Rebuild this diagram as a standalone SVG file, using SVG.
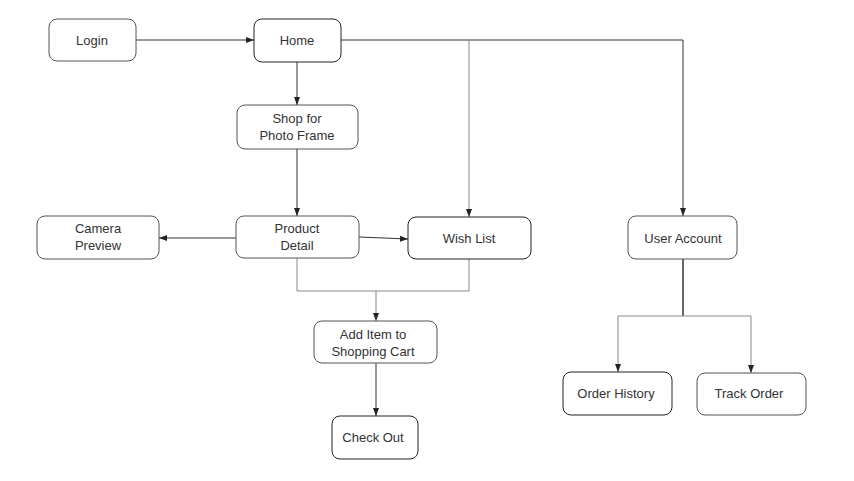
<svg xmlns="http://www.w3.org/2000/svg" width="854" height="481" viewBox="0 0 854 481">
<style>
.box{fill:#fff;stroke:#555;stroke-width:1}
.dark{stroke:#222}
.t{font-family:"Liberation Sans",Arial,sans-serif;font-size:13px;fill:#333;text-anchor:middle}
.c{fill:none;stroke:#333;stroke-width:1}
.g{stroke:#888}
</style>
<defs>
<marker id="a" viewBox="0 0 8 8" refX="8" refY="4" markerWidth="8" markerHeight="8" markerUnits="userSpaceOnUse" orient="auto">
<path d="M0,1 L8,4 L0,7 Z" fill="#222"/>
</marker>
</defs>
<rect width="854" height="481" fill="#fff"/>
<g id="connectors">
<path class="c" d="M136,40 H254" marker-end="url(#a)"/>
<path class="c" d="M341,40 H683 V216" marker-end="url(#a)"/>
<path class="c g" d="M469,40 V217" marker-end="url(#a)"/>
<path class="c" d="M297,62 V105" marker-end="url(#a)"/>
<path class="c" d="M297,149 V216" marker-end="url(#a)"/>
<path class="c" d="M236,238 H159" marker-end="url(#a)"/>
<path class="c" d="M359,237 L408,239" marker-end="url(#a)"/>
<path class="c g" d="M297,258 V291 H469 V259"/>
<path class="c g" d="M376,291 V321" marker-end="url(#a)"/>
<path class="c" d="M376,363 V416" marker-end="url(#a)"/>
<path class="c" d="M683,259 V316" style="stroke-width:1.5"/>
<path class="c g" d="M618,316 H751"/>
<path class="c g" d="M618,316 V372" marker-end="url(#a)"/>
<path class="c g" d="M751,316 V373" marker-end="url(#a)"/>
</g>
<g id="login"><rect class="box" x="49" y="19" width="87" height="42" rx="8"/><text class="t" x="92" y="45">Login</text></g>
<g id="home"><rect class="box dark" x="254" y="19" width="87" height="43" rx="8"/><text class="t" x="297" y="45">Home</text></g>
<g id="shop"><rect class="box" x="237" y="105" width="121" height="44" rx="8"/><text class="t" x="297" y="123">Shop for</text><text class="t" x="297" y="140">Photo Frame</text></g>
<g id="product"><rect class="box" x="236" y="216" width="123" height="42" rx="8"/><text class="t" x="297" y="233">Product</text><text class="t" x="297" y="250">Detail</text></g>
<g id="camera"><rect class="box" x="37" y="216" width="122" height="43" rx="8"/><text class="t" x="98" y="233">Camera</text><text class="t" x="98" y="250">Preview</text></g>
<g id="wishlist"><rect class="box dark" x="408" y="217" width="123" height="42" rx="8"/><text class="t" x="469" y="243">Wish List</text></g>
<g id="addcart"><rect class="box" x="314" y="321" width="123" height="42" rx="8"/><text class="t" x="373" y="339">Add Item to</text><text class="t" x="373" y="356">Shopping Cart</text></g>
<g id="checkout"><rect class="box dark" x="332" y="416" width="86" height="43" rx="8"/><text class="t" x="373" y="442">Check Out</text></g>
<g id="useraccount"><rect class="box" x="628" y="216" width="109" height="43" rx="8"/><text class="t" x="683" y="243">User Account</text></g>
<g id="orderhistory"><rect class="box dark" x="563" y="372" width="109" height="43" rx="8"/><text class="t" x="616" y="398">Order History</text></g>
<g id="trackorder"><rect class="box" x="697" y="373" width="109" height="42" rx="8"/><text class="t" x="749" y="398">Track Order</text></g>
</svg>
